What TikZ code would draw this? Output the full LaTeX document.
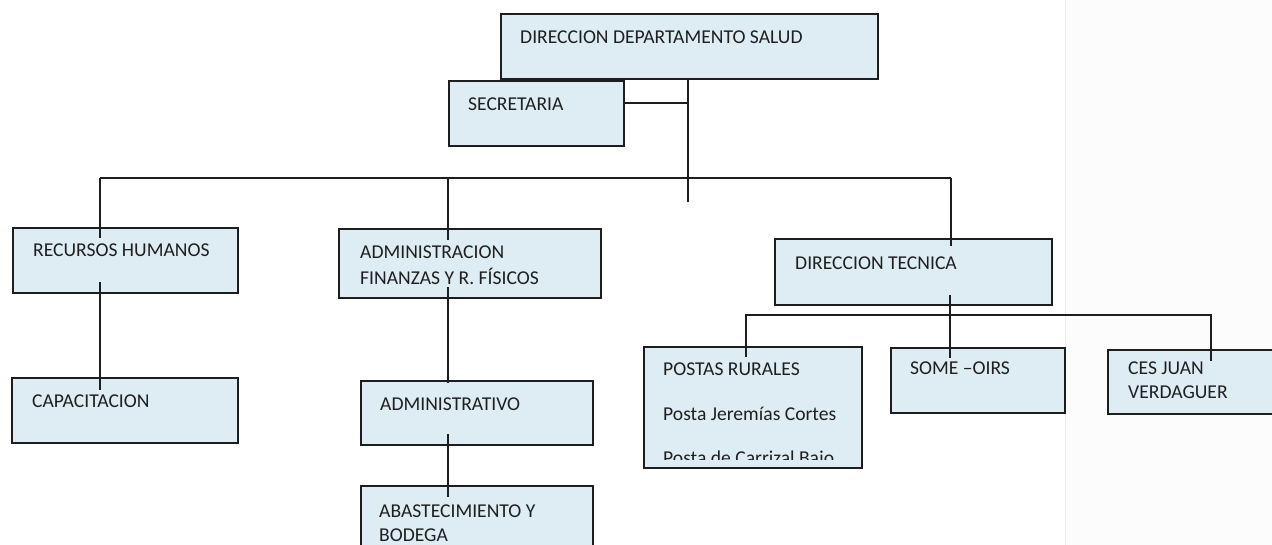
\documentclass[tikz,border=0pt]{standalone}
\usepackage{fontspec}
\setmainfont{Carlito}
\definecolor{boxfill}{RGB}{222,237,243}
\definecolor{panel}{RGB}{252,252,252}
\definecolor{ink}{RGB}{30,30,30}
\begin{document}
\begin{tikzpicture}[x=1pt,y=-1pt,
  box/.style={draw=ink,line width=1.8pt,fill=boxfill},
  conn/.style={draw=ink,line width=1.8pt},
  lbl/.style={anchor=base west,inner sep=0pt,font=\fontsize{19.6}{23}\selectfont,text=black!88}]
\clip (0,0) rectangle (1272,545);
\fill[white] (0,0) rectangle (1272,545);
\fill[panel] (1065,0) rectangle (1272,545);
\draw[black!8,line width=1pt] (1065,0) -- (1065,545);
% boxes
\path[box] (501,14) rectangle (878,79);   \coordinate (dirS) at (688,79);
\path[box] (449,81) rectangle (624,146);  \coordinate (secE) at (624,103);
\path[box] (13,228) rectangle (238,293);
\path[box] (339,229) rectangle (601,298);
\path[box] (775,239) rectangle (1052,305);
\path[box] (12,378) rectangle (238,443);
\path[box] (361,381) rectangle (593,445);
\path[box] (361,486) rectangle (593,560);
\path[box] (644,347) rectangle (862,468);
\path[box] (891,348) rectangle (1065,413);
\path[box] (1108,350) rectangle (1290,414);
% labels
\node[lbl] (dir) at (520,44) {DIRECCION DEPARTAMENTO SALUD};
\node[lbl] (sec) at (468,111) {SECRETARIA};
\node[lbl] (rh) at (33,257) {RECURSOS HUMANOS};
\node[lbl] (adm1) at (360,259) {ADMINISTRACION};
\node[lbl] (adm2) at (360,285) {FINANZAS Y R. FÍSICOS};
\node[lbl] (dt) at (795,270) {DIRECCION TECNICA};
\node[lbl] (cap) at (32,407) {CAPACITACION};
\node[lbl] (admv) at (380,410) {ADMINISTRATIVO};
\node[lbl] (abas1) at (379,517) {ABASTECIMIENTO Y};
\node[lbl] (abas2) at (379,541) {BODEGA};
\node[lbl] (post1) at (663,375) {POSTAS RURALES};
\node[lbl] (post2) at (663,420) {Posta Jeremías Cortes};
\begin{scope}
\clip (646,430) rectangle (860,459);
\node[lbl] (post3) at (663,464) {Posta de Carrizal Bajo};
\end{scope}
\node[lbl] (some) at (910,374) {SOME –OIRS};
\node[lbl] (ces1) at (1128,374) {CES JUAN};
\node[lbl] (ces2) at (1128,399) {VERDAGUER};
% junction coordinates
\coordinate (j0) at (688,103);
\coordinate (jend) at (688,202);
\coordinate (hL) at (100,178);
\coordinate (hA) at (448,178);
\coordinate (hR) at (951,178);
\coordinate (rhT) at (100,238);
\coordinate (admT) at (448,240);
\coordinate (dtT) at (951,246);
\coordinate (rhB) at (100,282);
\coordinate (capT) at (100,390);
\coordinate (admB) at (448,287);
\coordinate (admvT) at (448,383);
\coordinate (admvB) at (448,434);
\coordinate (abasT) at (448,497);
\coordinate (dtB) at (950,295);
\coordinate (someT) at (950,358);
\coordinate (pL) at (746,315);
\coordinate (pT) at (746,357);
\coordinate (cR) at (1211,315);
\coordinate (cT) at (1211,361);
% connectors
\draw[conn] (secE) -- (j0);
\draw[conn] (dirS) -- (jend);
\draw[conn] (hL) -- (hR);
\draw[conn] (hL) -- (rhT);
\draw[conn] (hA) -- (admT);
\draw[conn] (hR) -- (dtT);
\draw[conn] (rhB) -- (capT);
\draw[conn] (admB) -- (admvT);
\draw[conn] (admvB) -- (abasT);
\draw[conn] (dtB) -- (someT);
\draw[conn] (pT) -- (pL) -- (cR) -- (cT);
\end{tikzpicture}
\end{document}
